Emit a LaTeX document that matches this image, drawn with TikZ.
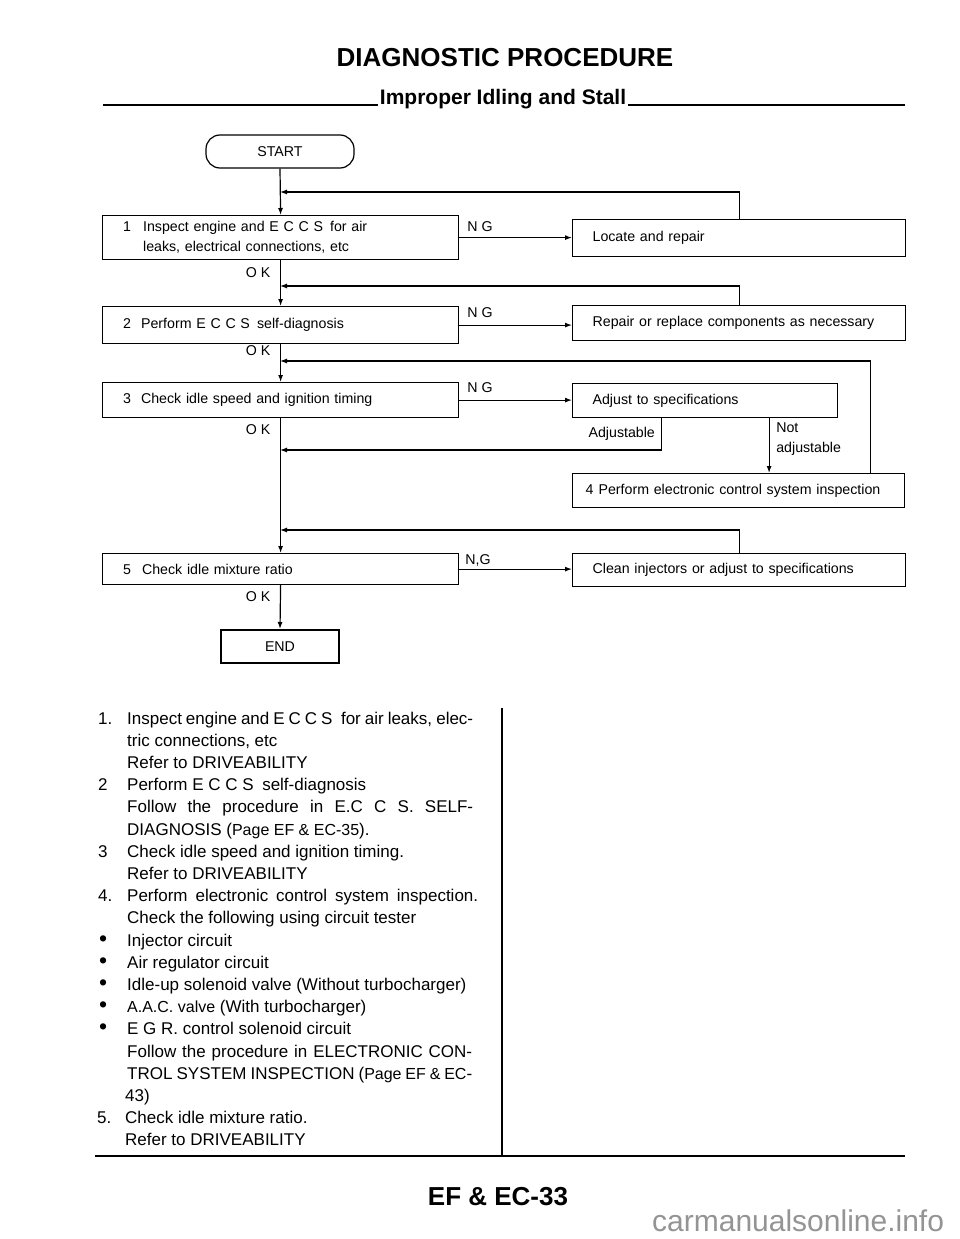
\documentclass[tikz,border=0pt]{standalone}
\usepackage{fontspec}
\setmainfont{Liberation Sans}
\usetikzlibrary{arrows.meta,calc}
\newcommand\myboxfont{\fontsize{14.2}{20}\selectfont}
\newcommand\mybodyfont{\fontsize{17}{22}\selectfont}
\newcommand\mysmallfont{\fontsize{16}{22}\selectfont}
\newcommand\mybullet{{\fontsize{23}{22}\selectfont\textbullet}}
\newcommand\mytitlefont{\fontsize{26}{30}\selectfont\bfseries}
\newcommand\mysubfont{\fontsize{21}{24}\selectfont\bfseries}
\begin{document}
\begin{tikzpicture}[x=1pt,y=-1pt,
  box/.style={draw, line width=1.2pt, anchor=north west, align=left, inner ysep=0pt, font=\myboxfont},
  arr/.style={line width=1.2pt, -{Latex[length=7pt,width=5pt]}},
  ln/.style={line width=1.2pt},
  lbl/.style={font=\myboxfont, inner sep=0pt},
  body/.style={font=\mybodyfont, anchor=base west, inner sep=0pt},
  ]
\useasboundingbox (0,0) rectangle (960,1239);
\fill[white] (0,0) rectangle (960,1239);

% headings
\node[font=\mytitlefont, inner sep=0pt] (title) at (505,58) {DIAGNOSTIC PROCEDURE};
\node[font=\mysubfont, inner sep=0pt] (sub) at (503,99) {Improper Idling and Stall};
\coordinate (sl) at (103,105);
\coordinate (sr) at (905,105);
\draw[line width=1.6pt] (sl) -- ([xshift=-2pt]sl -| sub.west);
\draw[line width=1.6pt] (sr) -- ([xshift=2pt]sr -| sub.east);

% flowchart nodes
\node[draw, line width=1.2pt, rounded corners=14pt, minimum width=148pt, minimum height=33pt, font=\myboxfont] (start) at (280,151.5) {START};
\node[box, text width=315pt, inner xsep=20.5pt, minimum height=44pt] (b1) at (102,215)
  {\makebox[20pt][l]{1}Inspect engine and E C C S\enspace for air\\\hspace*{20pt}leaks, electrical connections, etc};
\node[box, text width=315pt, inner xsep=20.5pt, minimum height=37pt] (b2) at (102,306)
  {\makebox[18pt][l]{2}Perform E C C S\enspace self-diagnosis};
\node[box, text width=315pt, inner xsep=20.5pt, minimum height=35pt] (b3) at (102,382)
  {\makebox[18pt][l]{3}Check idle speed and ignition timing};
\node[box, text width=315pt, inner xsep=20.5pt, minimum height=31pt] (b5) at (102,553)
  {\makebox[19pt][l]{5}Check idle mixture ratio};
\node[draw, line width=2pt, minimum width=118pt, minimum height=33pt, font=\myboxfont] (end) at (280,646.5) {END};

\node[box, text width=293pt, inner xsep=20pt, minimum height=37pt] (locate) at (572,219) {Locate and repair};
\node[box, text width=293pt, inner xsep=20pt, minimum height=35pt] (repair) at (572,305) {Repair or replace components as necessary};
\node[box, text width=225pt, inner xsep=20pt, minimum height=34pt] (adjust) at (572,383) {Adjust to specifications};
\node[box, text width=306pt, inner xsep=13pt, minimum height=34pt] (box4) at (572,473)
  {\makebox[13pt][l]{4}Perform electronic control system inspection};
\node[box, text width=293pt, inner xsep=20pt, minimum height=33pt] (clean) at (572,553) {Clean injectors or adjust to specifications};

% junction coordinates
\coordinate (j1) at (280,192);
\coordinate (j2) at (280,286);
\coordinate (j3) at (280,361);
\coordinate (j3b) at (280,450);
\coordinate (j5) at (280,530);
\coordinate (r4) at ([xshift=-35pt]box4.north east);
\coordinate (adA) at ([xshift=-44pt]adjust.south);
\coordinate (adN) at ([xshift=64pt]adjust.south);

% main line
\draw[arr] (start.south) -- (b1.north);
\draw[arr] (b1.south) -- (b2.north);
\draw[arr] (b2.south) -- (b3.north);
\draw[arr] (b3.south) -- (b5.north);
\draw[arr] (b5.south) -- (end.north);

% NG branches
\draw[arr] (b1.east) -- (b1.east -| locate.west);
\draw[arr] (b2.east) -- (b2.east -| repair.west);
\draw[arr] (b3.east) -- (b3.east -| adjust.west);
\draw[arr] (b5.east) -- (b5.east -| clean.west);

% returns
\draw[arr] (locate.north) |- (j1);
\draw[arr] (repair.north) |- (j2);
\draw[arr] (r4) |- (j3);
\draw[arr] (adA) |- (j3b);
\draw[arr] (adN) -- (adN |- box4.north);
\draw[arr] (clean.north) |- (j5);

% labels
\node[lbl, anchor=west] (ng1) at ([shift={(8,-11)}]b1.east) {N G};
\node[lbl, anchor=west] (ng2) at ([shift={(8,-12)}]b2.east) {N G};
\node[lbl, anchor=west] (ng3) at ([shift={(8,-12)}]b3.east) {N G};
\node[lbl, anchor=west] (ng5) at ([shift={(6,-9)}]b5.east) {N,G};
\node[lbl, anchor=east] (ok1) at ([shift={(-10,12)}]b1.south) {O K};
\node[lbl, anchor=east] (ok2) at ([shift={(-10,6)}]b2.south) {O K};
\node[lbl, anchor=east] (ok3) at ([shift={(-10,11)}]b3.south) {O K};
\node[lbl, anchor=east] (ok5) at ([shift={(-10,11)}]b5.south) {O K};
\node[lbl, anchor=east] (adjl) at ([shift={(-6,16)}]adA) {Adjustable};
\node[lbl, anchor=north west, align=left] (nadj) at ([shift={(7,4)}]adN) {Not\\adjustable};

% explanatory text
\node[body] (n1) at (98,724) {1.};
\node[body] (t1) at (127,724) {\makebox[346pt][s]{Inspect engine and E C C S\enspace for air leaks, elec-}};
\node[body] (t2) at (127,746.2) {tric connections, etc};
\node[body] (t3) at (127,768.4) {Refer to DRIVEABILITY};
\node[body] (n4) at (98,790.6) {2};
\node[body] (t4) at (127,790.6) {Perform E C C S\enspace self-diagnosis};
\node[body] (t5) at (127,812.8) {\makebox[346pt][s]{Follow the procedure in E.C C S. SELF-}};
\node[body] (t6) at (127,835) {DIAGNOSIS ({\mysmallfont Page EF \& EC-35}).};
\node[body] (n7) at (98,857.2) {3};
\node[body] (t7) at (127,857.2) {Check idle speed and ignition timing.};
\node[body] (t8) at (127,879.4) {Refer to DRIVEABILITY};
\node[body] (n9) at (98,901.6) {4.};
\node[body] (t9) at (127,901.6) {\makebox[351pt][s]{Perform electronic control system inspection.}};
\node[body] (t10) at (127,923.8) {Check the following using circuit tester};
\node[body] (u11) at (99,946) {\mybullet};
\node[body] (t11) at (127,946) {Injector circuit};
\node[body] (u12) at (99,968.2) {\mybullet};
\node[body] (t12) at (127,968.2) {Air regulator circuit};
\node[body] (u13) at (99,990.4) {\mybullet};
\node[body] (t13) at (127,990.4) {Idle-up solenoid valve (Without turbocharger)};
\node[body] (u14) at (99,1012.6) {\mybullet};
\node[body] (t14) at (127,1012.6) {{\mysmallfont A.A.C. valve} (With turbocharger)};
\node[body] (u15) at (99,1034.8) {\mybullet};
\node[body] (t15) at (127,1034.8) {E G R. control solenoid circuit};
\node[body] (t16) at (127,1057) {\makebox[345pt][s]{Follow the procedure in ELECTRONIC CON-}};
\node[body] (t17) at (127,1079.2) {\makebox[345pt][s]{TROL SYSTEM INSPECTION ({\mysmallfont Page EF \& EC}-}};
\node[body] (t18) at (125,1101.4) {43)};
\node[body] (n19) at (97,1123.6) {5.};
\node[body] (t19) at (125,1123.6) {Check idle mixture ratio.};
\node[body] (t20) at (125,1145.8) {Refer to DRIVEABILITY};

% rules
\coordinate (vt) at (502,708);
\coordinate (vb) at (502,1156);
\coordinate (hl) at (95,1156);
\coordinate (hr) at (905,1156);
\draw[line width=1.8pt] (vt) -- (vb);
\draw[line width=2.2pt] (hl) -- (hr);

% footer
\node[font=\mytitlefont, inner sep=0pt] (foot) at (498,1197) {EF \& EC-33};
\node[anchor=base west, inner sep=0pt, text=black!42, font=\fontsize{30}{32}\selectfont] (wm) at (652,1231) {carmanualsonline.info};
\end{tikzpicture}
\end{document}
